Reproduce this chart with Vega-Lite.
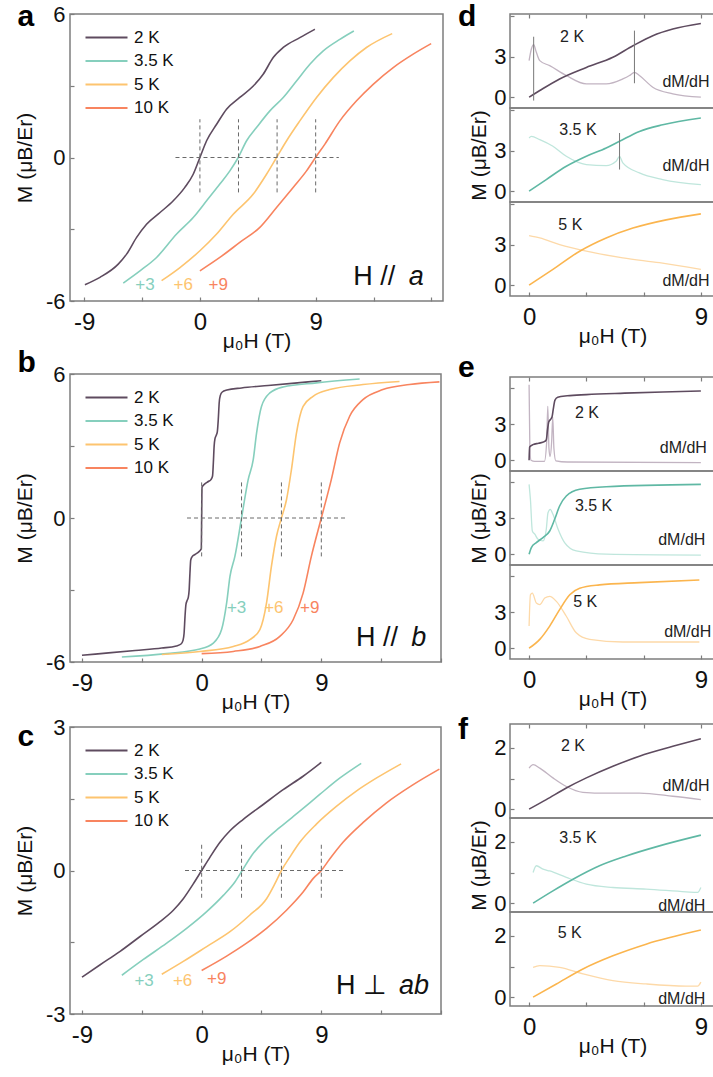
{
"$schema": "https://vega.github.io/schema/vega-lite/v6.json",
"background": "white",
"padding": {"left": 13, "top": 1, "right": 0, "bottom": 0},
"autosize": {"type": "pad"},
"config": {
 "font": "Liberation Sans",
 "view": {"stroke": "#7d7d7d", "strokeWidth": 1.5},
 "axis": {"grid": false, "domain": false, "tickColor": "#7d7d7d", "tickWidth": 1.2, "tickSize": -4, "labelFontSize": 22, "labelColor": "#111", "labelFont": "Liberation Sans", "titleFont": "Liberation Sans", "titleFontSize": 21, "titleFontWeight": "normal", "titleColor": "#111", "labelPadding": 10, "labelOverlap": false},
 "axisX": {"labelFontSize": 24, "labelPadding": 13},
 "title": {"font": "Liberation Sans", "fontSize": 30, "fontWeight": "bold", "anchor": "start", "frame": "bounds", "offset": 0, "color": "#000"}
},
"datasets": {
 "big": [
  {"g":"a","T":"2 K","H":-8.94,"M":-5.32},{"g":"a","T":"2 K","H":-7.77,"M":-5.01},{"g":"a","T":"2 K","H":-6.35,"M":-4.46},{"g":"a","T":"2 K","H":-5.7,"M":-4.04},{"g":"a","T":"2 K","H":-4.92,"M":-3.34},{"g":"a","T":"2 K","H":-4.15,"M":-2.79},{"g":"a","T":"2 K","H":-3.1,"M":-2.3},{"g":"a","T":"2 K","H":-2.07,"M":-1.81},{"g":"a","T":"2 K","H":-1.17,"M":-1.25},{"g":"a","T":"2 K","H":-0.52,"M":-0.7},{"g":"a","T":"2 K","H":0,"M":0},{"g":"a","T":"2 K","H":0.52,"M":0.7},{"g":"a","T":"2 K","H":1.3,"M":1.39},{"g":"a","T":"2 K","H":2.07,"M":2.02},{"g":"a","T":"2 K","H":3.1,"M":2.51},{"g":"a","T":"2 K","H":4.15,"M":2.99},{"g":"a","T":"2 K","H":4.92,"M":3.48},{"g":"a","T":"2 K","H":5.7,"M":4.18},{"g":"a","T":"2 K","H":6.48,"M":4.6},{"g":"a","T":"2 K","H":7.77,"M":5.01},{"g":"a","T":"2 K","H":8.94,"M":5.36},
  {"g":"a","T":"3.5 K","H":-5.96,"M":-5.25},{"g":"a","T":"3.5 K","H":-4.66,"M":-4.74},{"g":"a","T":"3.5 K","H":-3.37,"M":-4.18},{"g":"a","T":"3.5 K","H":-1.81,"M":-3.2},{"g":"a","T":"3.5 K","H":-0.52,"M":-2.51},{"g":"a","T":"3.5 K","H":0.52,"M":-1.81},{"g":"a","T":"3.5 K","H":1.55,"M":-1.11},{"g":"a","T":"3.5 K","H":2.33,"M":-0.56},{"g":"a","T":"3.5 K","H":2.98,"M":0},{"g":"a","T":"3.5 K","H":3.63,"M":0.7},{"g":"a","T":"3.5 K","H":4.4,"M":1.25},{"g":"a","T":"3.5 K","H":5.44,"M":1.95},{"g":"a","T":"3.5 K","H":6.48,"M":2.51},{"g":"a","T":"3.5 K","H":7.51,"M":3.2},{"g":"a","T":"3.5 K","H":8.55,"M":3.9},{"g":"a","T":"3.5 K","H":9.59,"M":4.46},{"g":"a","T":"3.5 K","H":10.88,"M":4.94},{"g":"a","T":"3.5 K","H":11.97,"M":5.29},
  {"g":"a","T":"5 K","H":-2.98,"M":-5.15},{"g":"a","T":"5 K","H":-1.55,"M":-4.6},{"g":"a","T":"5 K","H":0,"M":-3.9},{"g":"a","T":"5 K","H":1.3,"M":-3.2},{"g":"a","T":"5 K","H":2.59,"M":-2.37},{"g":"a","T":"5 K","H":4.15,"M":-1.53},{"g":"a","T":"5 K","H":5.18,"M":-0.7},{"g":"a","T":"5 K","H":5.96,"M":0},{"g":"a","T":"5 K","H":6.74,"M":0.7},{"g":"a","T":"5 K","H":7.77,"M":1.53},{"g":"a","T":"5 K","H":9.07,"M":2.51},{"g":"a","T":"5 K","H":10.36,"M":3.34},{"g":"a","T":"5 K","H":11.66,"M":4.04},{"g":"a","T":"5 K","H":12.95,"M":4.6},{"g":"a","T":"5 K","H":14.95,"M":5.18},
  {"g":"a","T":"10 K","H":0,"M":-4.74},{"g":"a","T":"10 K","H":1.55,"M":-4.18},{"g":"a","T":"10 K","H":3.1,"M":-3.55},{"g":"a","T":"10 K","H":4.66,"M":-2.92},{"g":"a","T":"10 K","H":5.96,"M":-2.09},{"g":"a","T":"10 K","H":7.25,"M":-1.25},{"g":"a","T":"10 K","H":8.29,"M":-0.56},{"g":"a","T":"10 K","H":8.99,"M":0},{"g":"a","T":"10 K","H":9.72,"M":0.56},{"g":"a","T":"10 K","H":10.88,"M":1.53},{"g":"a","T":"10 K","H":12.18,"M":2.37},{"g":"a","T":"10 K","H":13.47,"M":3.06},{"g":"a","T":"10 K","H":15.03,"M":3.76},{"g":"a","T":"10 K","H":16.58,"M":4.32},{"g":"a","T":"10 K","H":17.98,"M":4.76},
  {"g":"b","T":"2 K","H":-9,"M":-5.72},{"g":"b","T":"2 K","H":-7,"M":-5.62},{"g":"b","T":"2 K","H":-5,"M":-5.52},{"g":"b","T":"2 K","H":-3,"M":-5.42},{"g":"b","T":"2 K","H":-1.9,"M":-5.33},{"g":"b","T":"2 K","H":-1.55,"M":-5.25},{"g":"b","T":"2 K","H":-1.4,"M":-5.1},{"g":"b","T":"2 K","H":-1.32,"M":-4.8},{"g":"b","T":"2 K","H":-1.25,"M":-4.1},{"g":"b","T":"2 K","H":-1.18,"M":-3.6},{"g":"b","T":"2 K","H":-1.1,"M":-3.45},{"g":"b","T":"2 K","H":-1.0,"M":-3.3},{"g":"b","T":"2 K","H":-0.94,"M":-3.0},{"g":"b","T":"2 K","H":-0.88,"M":-2.3},{"g":"b","T":"2 K","H":-0.82,"M":-1.75},{"g":"b","T":"2 K","H":-0.7,"M":-1.6},{"g":"b","T":"2 K","H":-0.5,"M":-1.52},{"g":"b","T":"2 K","H":-0.2,"M":-1.4},{"g":"b","T":"2 K","H":-0.03,"M":-1.28},{"g":"b","T":"2 K","H":0.03,"M":1.28},{"g":"b","T":"2 K","H":0.2,"M":1.4},{"g":"b","T":"2 K","H":0.5,"M":1.52},{"g":"b","T":"2 K","H":0.7,"M":1.6},{"g":"b","T":"2 K","H":0.82,"M":1.75},{"g":"b","T":"2 K","H":0.88,"M":2.3},{"g":"b","T":"2 K","H":0.94,"M":3.0},{"g":"b","T":"2 K","H":1.0,"M":3.3},{"g":"b","T":"2 K","H":1.1,"M":3.45},{"g":"b","T":"2 K","H":1.18,"M":3.6},{"g":"b","T":"2 K","H":1.25,"M":4.1},{"g":"b","T":"2 K","H":1.32,"M":4.8},{"g":"b","T":"2 K","H":1.4,"M":5.1},{"g":"b","T":"2 K","H":1.55,"M":5.25},{"g":"b","T":"2 K","H":1.9,"M":5.33},{"g":"b","T":"2 K","H":3,"M":5.42},{"g":"b","T":"2 K","H":5,"M":5.52},{"g":"b","T":"2 K","H":7,"M":5.62},{"g":"b","T":"2 K","H":9,"M":5.72},
  {"g":"b","T":"3.5 K","H":-6,"M":-5.79},{"g":"b","T":"3.5 K","H":-2.63,"M":-5.65},{"g":"b","T":"3.5 K","H":-0.13,"M":-5.46},{"g":"b","T":"3.5 K","H":0.88,"M":-5.21},{"g":"b","T":"3.5 K","H":1.5,"M":-4.65},{"g":"b","T":"3.5 K","H":1.88,"M":-3.54},{"g":"b","T":"3.5 K","H":2.13,"M":-2.43},{"g":"b","T":"3.5 K","H":2.5,"M":-1.6},{"g":"b","T":"3.5 K","H":3,"M":0},{"g":"b","T":"3.5 K","H":3.5,"M":1.6},{"g":"b","T":"3.5 K","H":3.88,"M":2.43},{"g":"b","T":"3.5 K","H":4.13,"M":3.54},{"g":"b","T":"3.5 K","H":4.5,"M":4.65},{"g":"b","T":"3.5 K","H":5.13,"M":5.21},{"g":"b","T":"3.5 K","H":6.13,"M":5.46},{"g":"b","T":"3.5 K","H":8.63,"M":5.63},{"g":"b","T":"3.5 K","H":11.88,"M":5.79},
  {"g":"b","T":"5 K","H":-3,"M":-5.69},{"g":"b","T":"5 K","H":-0.13,"M":-5.56},{"g":"b","T":"5 K","H":2.38,"M":-5.35},{"g":"b","T":"5 K","H":3.63,"M":-5.07},{"g":"b","T":"5 K","H":4.38,"M":-4.65},{"g":"b","T":"5 K","H":4.88,"M":-3.54},{"g":"b","T":"5 K","H":5.25,"M":-2.01},{"g":"b","T":"5 K","H":5.63,"M":-0.76},{"g":"b","T":"5 K","H":6,"M":0},{"g":"b","T":"5 K","H":6.38,"M":0.76},{"g":"b","T":"5 K","H":6.75,"M":2.01},{"g":"b","T":"5 K","H":7.13,"M":3.54},{"g":"b","T":"5 K","H":7.63,"M":4.65},{"g":"b","T":"5 K","H":8.38,"M":5.07},{"g":"b","T":"5 K","H":9.63,"M":5.35},{"g":"b","T":"5 K","H":12.13,"M":5.56},{"g":"b","T":"5 K","H":14.88,"M":5.69},
  {"g":"b","T":"10 K","H":0,"M":-5.65},{"g":"b","T":"10 K","H":2.38,"M":-5.56},{"g":"b","T":"10 K","H":4.38,"M":-5.35},{"g":"b","T":"10 K","H":5.88,"M":-4.93},{"g":"b","T":"10 K","H":6.88,"M":-4.24},{"g":"b","T":"10 K","H":7.63,"M":-3.13},{"g":"b","T":"10 K","H":8.25,"M":-1.6},{"g":"b","T":"10 K","H":9,"M":0},{"g":"b","T":"10 K","H":9.75,"M":1.6},{"g":"b","T":"10 K","H":10.38,"M":3.13},{"g":"b","T":"10 K","H":11.13,"M":4.24},{"g":"b","T":"10 K","H":12.13,"M":4.93},{"g":"b","T":"10 K","H":13.63,"M":5.35},{"g":"b","T":"10 K","H":15.63,"M":5.56},{"g":"b","T":"10 K","H":17.88,"M":5.67},
  {"g":"c","T":"2 K","H":-9,"M":-2.23},{"g":"c","T":"2 K","H":-7.63,"M":-1.97},{"g":"c","T":"2 K","H":-6.13,"M":-1.69},{"g":"c","T":"2 K","H":-4.63,"M":-1.38},{"g":"c","T":"2 K","H":-3.13,"M":-1.07},{"g":"c","T":"2 K","H":-2.13,"M":-0.83},{"g":"c","T":"2 K","H":-1.38,"M":-0.59},{"g":"c","T":"2 K","H":-0.63,"M":-0.28},{"g":"c","T":"2 K","H":0,"M":0},{"g":"c","T":"2 K","H":0.63,"M":0.28},{"g":"c","T":"2 K","H":1.38,"M":0.59},{"g":"c","T":"2 K","H":2.13,"M":0.83},{"g":"c","T":"2 K","H":3.13,"M":1.07},{"g":"c","T":"2 K","H":4.63,"M":1.38},{"g":"c","T":"2 K","H":6.13,"M":1.69},{"g":"c","T":"2 K","H":7.63,"M":1.97},{"g":"c","T":"2 K","H":9,"M":2.26},
  {"g":"c","T":"3.5 K","H":-6,"M":-2.19},{"g":"c","T":"3.5 K","H":-4.38,"M":-1.86},{"g":"c","T":"3.5 K","H":-2.63,"M":-1.52},{"g":"c","T":"3.5 K","H":-1.13,"M":-1.21},{"g":"c","T":"3.5 K","H":0.38,"M":-0.86},{"g":"c","T":"3.5 K","H":1.63,"M":-0.52},{"g":"c","T":"3.5 K","H":2.5,"M":-0.24},{"g":"c","T":"3.5 K","H":3.05,"M":0},{"g":"c","T":"3.5 K","H":3.75,"M":0.31},{"g":"c","T":"3.5 K","H":4.63,"M":0.59},{"g":"c","T":"3.5 K","H":5.88,"M":0.9},{"g":"c","T":"3.5 K","H":7.38,"M":1.24},{"g":"c","T":"3.5 K","H":8.88,"M":1.59},{"g":"c","T":"3.5 K","H":10.38,"M":1.93},{"g":"c","T":"3.5 K","H":12,"M":2.24},
  {"g":"c","T":"5 K","H":-3,"M":-2.17},{"g":"c","T":"5 K","H":-1.38,"M":-1.9},{"g":"c","T":"5 K","H":0.38,"M":-1.59},{"g":"c","T":"5 K","H":2.13,"M":-1.28},{"g":"c","T":"5 K","H":3.63,"M":-0.93},{"g":"c","T":"5 K","H":4.88,"M":-0.59},{"g":"c","T":"5 K","H":5.5,"M":-0.28},{"g":"c","T":"5 K","H":6,"M":0},{"g":"c","T":"5 K","H":6.63,"M":0.28},{"g":"c","T":"5 K","H":7.38,"M":0.59},{"g":"c","T":"5 K","H":8.63,"M":0.97},{"g":"c","T":"5 K","H":10.13,"M":1.34},{"g":"c","T":"5 K","H":11.63,"M":1.66},{"g":"c","T":"5 K","H":13.13,"M":1.93},{"g":"c","T":"5 K","H":15,"M":2.23},
  {"g":"c","T":"10 K","H":0,"M":-2.09},{"g":"c","T":"10 K","H":1.88,"M":-1.79},{"g":"c","T":"10 K","H":3.38,"M":-1.52},{"g":"c","T":"10 K","H":4.88,"M":-1.21},{"g":"c","T":"10 K","H":6.38,"M":-0.83},{"g":"c","T":"10 K","H":7.63,"M":-0.45},{"g":"c","T":"10 K","H":8.38,"M":-0.17},{"g":"c","T":"10 K","H":9,"M":0},{"g":"c","T":"10 K","H":9.63,"M":0.24},{"g":"c","T":"10 K","H":10.63,"M":0.59},{"g":"c","T":"10 K","H":12.13,"M":1.0},{"g":"c","T":"10 K","H":13.88,"M":1.41},{"g":"c","T":"10 K","H":15.88,"M":1.79},{"g":"c","T":"10 K","H":17.88,"M":2.12}
 ],
 "vl": [
  {"g":"a","H":0,"M":-1.46,"M2":1.6},{"g":"a","H":3,"M":-1.46,"M2":1.6},{"g":"a","H":6,"M":-1.46,"M2":1.6},{"g":"a","H":9,"M":-1.46,"M2":1.6},
  {"g":"b","H":0,"M":-1.6,"M2":1.58},{"g":"b","H":3,"M":-1.6,"M2":1.58},{"g":"b","H":6,"M":-1.6,"M2":1.58},{"g":"b","H":9,"M":-1.6,"M2":1.58},
  {"g":"c","H":0,"M":-0.57,"M2":0.58},{"g":"c","H":3,"M":-0.57,"M2":0.58},{"g":"c","H":6,"M":-0.57,"M2":0.58},{"g":"c","H":9,"M":-0.57,"M2":0.58}
 ],
 "hl": [
  {"g":"a","H":-1.9,"H2":10.8,"M":0},{"g":"b","H":-1.1,"H2":11,"M":0},{"g":"c","H":-1.25,"H2":10.7,"M":0}
 ],
 "bann": [
  {"g":"a","T":"3.5 K","txt":"+3","H":-4.27,"M":-5.32},{"g":"a","T":"5 K","txt":"+6","H":-1.3,"M":-5.32},{"g":"a","T":"10 K","txt":"+9","H":1.42,"M":-5.32},
  {"g":"b","T":"3.5 K","txt":"+3","H":2.63,"M":-3.75},{"g":"b","T":"5 K","txt":"+6","H":5.43,"M":-3.75},{"g":"b","T":"10 K","txt":"+9","H":8.13,"M":-3.75},
  {"g":"c","T":"3.5 K","txt":"+3","H":-4.33,"M":-2.3},{"g":"c","T":"5 K","txt":"+6","H":-1.43,"M":-2.3},{"g":"c","T":"10 K","txt":"+9","H":1.13,"M":-2.26}
 ],
 "lab": [
  {"g":"a","part":"H","txt":"H //","H":11.92,"M":-5.32},{"g":"a","part":"ax","txt":"a","H":17.4,"M":-5.32},
  {"g":"b","part":"H","txt":"H //","H":11.6,"M":-5.32},{"g":"b","part":"ax","txt":"b","H":16.9,"M":-5.32},
  {"g":"c","part":"H","txt":"H ⊥","H":10.1,"M":-2.59},{"g":"c","part":"ax","txt":"ab","H":17.1,"M":-2.59}
 ],
 "small": [
  {"p":"d1","k":"M","H":0,"M":0},{"p":"d1","k":"M","H":0.56,"M":0.49},{"p":"d1","k":"M","H":1.6,"M":1.35},{"p":"d1","k":"M","H":3,"M":2.2},{"p":"d1","k":"M","H":4.39,"M":2.95},{"p":"d1","k":"M","H":5.44,"M":3.8},{"p":"d1","k":"M","H":6.48,"M":4.55},{"p":"d1","k":"M","H":7.53,"M":5.04},{"p":"d1","k":"M","H":9,"M":5.45},
  {"p":"d1","k":"D","H":0,"M":2.7},{"p":"d1","k":"D","H":0.12,"M":3.56},{"p":"d1","k":"D","H":0.24,"M":3.88},{"p":"d1","k":"D","H":0.38,"M":3.32},{"p":"d1","k":"D","H":0.56,"M":2.7},{"p":"d1","k":"D","H":1.08,"M":2.33},{"p":"d1","k":"D","H":1.95,"M":1.6},{"p":"d1","k":"D","H":3,"M":0.98},{"p":"d1","k":"D","H":4.04,"M":0.98},{"p":"d1","k":"D","H":4.91,"M":1.35},{"p":"d1","k":"D","H":5.26,"M":1.6},{"p":"d1","k":"D","H":5.52,"M":1.84},{"p":"d1","k":"D","H":5.78,"M":1.6},{"p":"d1","k":"D","H":6.48,"M":0.74},{"p":"d1","k":"D","H":7.53,"M":0.25},{"p":"d1","k":"D","H":9,"M":0},
  {"p":"d2","k":"M","H":0,"M":0},{"p":"d2","k":"M","H":0.9,"M":0.86},{"p":"d2","k":"M","H":1.95,"M":1.84},{"p":"d2","k":"M","H":3,"M":2.58},{"p":"d2","k":"M","H":4.04,"M":3.19},{"p":"d2","k":"M","H":4.74,"M":3.69},{"p":"d2","k":"M","H":5.78,"M":4.42},{"p":"d2","k":"M","H":7.0,"M":4.91},{"p":"d2","k":"M","H":9,"M":5.41},
  {"p":"d2","k":"D","H":0,"M":3.93},{"p":"d2","k":"D","H":0.12,"M":4.05},{"p":"d2","k":"D","H":0.56,"M":3.81},{"p":"d2","k":"D","H":1.25,"M":3.32},{"p":"d2","k":"D","H":1.95,"M":2.58},{"p":"d2","k":"D","H":3,"M":1.97},{"p":"d2","k":"D","H":4.04,"M":1.89},{"p":"d2","k":"D","H":4.56,"M":2.21},{"p":"d2","k":"D","H":4.74,"M":2.58},{"p":"d2","k":"D","H":4.91,"M":2.09},{"p":"d2","k":"D","H":5.78,"M":1.35},{"p":"d2","k":"D","H":7.0,"M":0.86},{"p":"d2","k":"D","H":9,"M":0.49},
  {"p":"d3","k":"M","H":0,"M":0},{"p":"d3","k":"M","H":1.25,"M":1.17},{"p":"d3","k":"M","H":2.65,"M":2.51},{"p":"d3","k":"M","H":4.04,"M":3.49},{"p":"d3","k":"M","H":5.44,"M":4.22},{"p":"d3","k":"M","H":7.18,"M":4.83},{"p":"d3","k":"M","H":9,"M":5.27},
  {"p":"d3","k":"D","H":0,"M":3.66},{"p":"d3","k":"D","H":0.56,"M":3.49},{"p":"d3","k":"D","H":1.6,"M":3.0},{"p":"d3","k":"D","H":3,"M":2.51},{"p":"d3","k":"D","H":4.91,"M":2.02},{"p":"d3","k":"D","H":6.83,"M":1.66},{"p":"d3","k":"D","H":9,"M":1.17},
  {"p":"e1","k":"M","H":0,"M":0},{"p":"e1","k":"M","H":0.03,"M":1.1},{"p":"e1","k":"M","H":0.2,"M":1.3},{"p":"e1","k":"M","H":0.5,"M":1.42},{"p":"e1","k":"M","H":0.8,"M":1.55},{"p":"e1","k":"M","H":0.9,"M":1.7},{"p":"e1","k":"M","H":0.97,"M":2.6},{"p":"e1","k":"M","H":1.03,"M":3.2},{"p":"e1","k":"M","H":1.12,"M":3.4},{"p":"e1","k":"M","H":1.2,"M":3.6},{"p":"e1","k":"M","H":1.28,"M":4.4},{"p":"e1","k":"M","H":1.35,"M":5.0},{"p":"e1","k":"M","H":1.5,"M":5.25},{"p":"e1","k":"M","H":2,"M":5.38},{"p":"e1","k":"M","H":3,"M":5.48},{"p":"e1","k":"M","H":5,"M":5.6},{"p":"e1","k":"M","H":7,"M":5.7},{"p":"e1","k":"M","H":9,"M":5.78},
  {"p":"e1","k":"D","H":0,"M":6.3},{"p":"e1","k":"D","H":0.04,"M":1.0},{"p":"e1","k":"D","H":0.1,"M":0.0},{"p":"e1","k":"D","H":0.3,"M":-0.1},{"p":"e1","k":"D","H":0.8,"M":-0.1},{"p":"e1","k":"D","H":0.92,"M":1.5},{"p":"e1","k":"D","H":0.98,"M":4.5},{"p":"e1","k":"D","H":1.04,"M":1.0},{"p":"e1","k":"D","H":1.1,"M":0.3},{"p":"e1","k":"D","H":1.18,"M":1.5},{"p":"e1","k":"D","H":1.24,"M":3.6},{"p":"e1","k":"D","H":1.3,"M":1.0},{"p":"e1","k":"D","H":1.4,"M":-0.05},{"p":"e1","k":"D","H":2,"M":-0.15},{"p":"e1","k":"D","H":9,"M":-0.2},
  {"p":"e2","k":"M","H":0,"M":0},{"p":"e2","k":"M","H":0.12,"M":0.56},{"p":"e2","k":"M","H":0.38,"M":0.97},{"p":"e2","k":"M","H":0.73,"M":1.39},{"p":"e2","k":"M","H":1.08,"M":1.94},{"p":"e2","k":"M","H":1.34,"M":2.92},{"p":"e2","k":"M","H":1.6,"M":4.03},{"p":"e2","k":"M","H":1.95,"M":4.86},{"p":"e2","k":"M","H":2.65,"M":5.42},{"p":"e2","k":"M","H":4.04,"M":5.64},{"p":"e2","k":"M","H":9,"M":5.83},
  {"p":"e2","k":"D","H":0,"M":5.83},{"p":"e2","k":"D","H":0.07,"M":4.58},{"p":"e2","k":"D","H":0.17,"M":1.94},{"p":"e2","k":"D","H":0.3,"M":1.67},{"p":"e2","k":"D","H":0.47,"M":1.25},{"p":"e2","k":"D","H":0.73,"M":1.11},{"p":"e2","k":"D","H":0.9,"M":2.08},{"p":"e2","k":"D","H":0.99,"M":3.47},{"p":"e2","k":"D","H":1.11,"M":3.75},{"p":"e2","k":"D","H":1.25,"M":3.33},{"p":"e2","k":"D","H":1.52,"M":2.08},{"p":"e2","k":"D","H":1.86,"M":0.97},{"p":"e2","k":"D","H":2.47,"M":0.28},{"p":"e2","k":"D","H":4.04,"M":0},{"p":"e2","k":"D","H":9,"M":-0.08},
  {"p":"e3","k":"M","H":0,"M":0},{"p":"e3","k":"M","H":0.56,"M":0.74},{"p":"e3","k":"M","H":1.08,"M":1.85},{"p":"e3","k":"M","H":1.6,"M":3.22},{"p":"e3","k":"M","H":2.13,"M":4.46},{"p":"e3","k":"M","H":2.65,"M":5.01},{"p":"e3","k":"M","H":3.69,"M":5.29},{"p":"e3","k":"M","H":5.78,"M":5.48},{"p":"e3","k":"M","H":8.92,"M":5.7},
  {"p":"e3","k":"D","H":0,"M":1.85},{"p":"e3","k":"D","H":0.07,"M":4.46},{"p":"e3","k":"D","H":0.17,"M":4.6},{"p":"e3","k":"D","H":0.38,"M":3.77},{"p":"e3","k":"D","H":0.56,"M":3.64},{"p":"e3","k":"D","H":0.82,"M":4.19},{"p":"e3","k":"D","H":1.08,"M":4.33},{"p":"e3","k":"D","H":1.43,"M":3.91},{"p":"e3","k":"D","H":1.95,"M":2.67},{"p":"e3","k":"D","H":2.47,"M":1.29},{"p":"e3","k":"D","H":3.17,"M":0.74},{"p":"e3","k":"D","H":4.91,"M":0.52},{"p":"e3","k":"D","H":8.92,"M":0.52},
  {"p":"f1","k":"M","H":0,"M":0},{"p":"f1","k":"M","H":0.9,"M":0.31},{"p":"f1","k":"M","H":1.95,"M":0.69},{"p":"f1","k":"M","H":3,"M":1.02},{"p":"f1","k":"M","H":4.39,"M":1.4},{"p":"f1","k":"M","H":5.78,"M":1.73},{"p":"f1","k":"M","H":7.53,"M":2.05},{"p":"f1","k":"M","H":9,"M":2.3},
  {"p":"f1","k":"D","H":0,"M":1.34},{"p":"f1","k":"D","H":0.21,"M":1.45},{"p":"f1","k":"D","H":0.56,"M":1.34},{"p":"f1","k":"D","H":1.25,"M":1.02},{"p":"f1","k":"D","H":1.95,"M":0.74},{"p":"f1","k":"D","H":2.82,"M":0.55},{"p":"f1","k":"D","H":4.04,"M":0.52},{"p":"f1","k":"D","H":5.78,"M":0.52},{"p":"f1","k":"D","H":7.53,"M":0.42},{"p":"f1","k":"D","H":9,"M":0.31},
  {"p":"f2","k":"M","H":0.21,"M":0},{"p":"f2","k":"M","H":1.25,"M":0.4},{"p":"f2","k":"M","H":2.3,"M":0.78},{"p":"f2","k":"M","H":3.69,"M":1.22},{"p":"f2","k":"M","H":5.09,"M":1.54},{"p":"f2","k":"M","H":6.83,"M":1.87},{"p":"f2","k":"M","H":9,"M":2.22},
  {"p":"f2","k":"D","H":0.21,"M":1.0},{"p":"f2","k":"D","H":0.38,"M":1.22},{"p":"f2","k":"D","H":0.73,"M":1.11},{"p":"f2","k":"D","H":1.08,"M":1.05},{"p":"f2","k":"D","H":1.95,"M":0.84},{"p":"f2","k":"D","H":3,"M":0.62},{"p":"f2","k":"D","H":4.39,"M":0.51},{"p":"f2","k":"D","H":6.13,"M":0.46},{"p":"f2","k":"D","H":8.22,"M":0.37},{"p":"f2","k":"D","H":8.83,"M":0.35},{"p":"f2","k":"D","H":9,"M":0.51},
  {"p":"f3","k":"M","H":0.21,"M":0},{"p":"f3","k":"M","H":1.43,"M":0.43},{"p":"f3","k":"M","H":2.82,"M":0.92},{"p":"f3","k":"M","H":4.39,"M":1.35},{"p":"f3","k":"M","H":6.13,"M":1.73},{"p":"f3","k":"M","H":9,"M":2.19},
  {"p":"f3","k":"D","H":0.21,"M":0.97},{"p":"f3","k":"D","H":0.56,"M":1.03},{"p":"f3","k":"D","H":1.6,"M":0.97},{"p":"f3","k":"D","H":2.82,"M":0.76},{"p":"f3","k":"D","H":4.39,"M":0.54},{"p":"f3","k":"D","H":6.13,"M":0.43},{"p":"f3","k":"D","H":8.22,"M":0.36},{"p":"f3","k":"D","H":8.83,"M":0.36},{"p":"f3","k":"D","H":9,"M":0.49}
 ],
 "sann": [
  {"p":"d1","txt":"2 K","H":2.25,"M":4.42},{"p":"d1","txt":"dM/dH","H":8.22,"M":1.1},
  {"p":"d2","txt":"3.5 K","H":2.56,"M":4.55},{"p":"d2","txt":"dM/dH","H":8.22,"M":1.84},
  {"p":"d3","txt":"5 K","H":2.16,"M":4.46},{"p":"d3","txt":"dM/dH","H":8.22,"M":0.32},
  {"p":"e1","txt":"2 K","H":3.03,"M":3.97},{"p":"e1","txt":"dM/dH","H":8.08,"M":1.0},
  {"p":"e2","txt":"3.5 K","H":3.38,"M":4.03},{"p":"e2","txt":"dM/dH","H":8.0,"M":1.19},
  {"p":"e3","txt":"5 K","H":2.94,"M":3.86},{"p":"e3","txt":"dM/dH","H":8.31,"M":1.35},
  {"p":"f1","txt":"2 K","H":2.3,"M":2.05},{"p":"f1","txt":"dM/dH","H":8.22,"M":0.74},
  {"p":"f2","txt":"3.5 K","H":2.56,"M":2.14},{"p":"f2","txt":"dM/dH","H":8.0,"M":-0.09},
  {"p":"f3","txt":"5 K","H":2.13,"M":2.11},{"p":"f3","txt":"dM/dH","H":8.0,"M":-0.05}
 ],
 "smark": [
  {"p":"d1","H":0.24,"M":-0.25,"M2":4.47},{"p":"d1","H":5.52,"M":1.03,"M2":4.92},{"p":"d2","H":4.74,"M":1.6,"M2":4.3}
 ]
},
"spacing": 14,
"hconcat": [
 {
  "spacing": -5,
  "resolve": {"scale": {"color": "independent"}},
  "vconcat": [
   {
    "width": 373, "height": 287,
    "title": {"text": "a", "offset": -29, "dx": 3},
    "layer": [
     {"data": {"name": "big"}, "transform": [{"filter": "datum.g == 'a'"}],
      "mark": {"type": "line", "strokeWidth": 1.6, "interpolate": "monotone"},
      "encoding": {
       "x": {"field": "H", "type": "quantitative", "scale": {"domain": [-10.1, 18.9], "nice": false, "zero": false},
             "axis": {"title": "μ₀H (T)", "values": [-9, -4.5, 0, 4.5, 9, 13.5, 18], "labelExpr": "datum.value == -9 ? '-9' : datum.value == 0 ? '0' : datum.value == 9 ? '9' : ''", "titlePadding": -4}},
       "y": {"field": "M", "type": "quantitative", "scale": {"domain": [-6, 6], "nice": false, "zero": false},
             "axis": {"title": "M (μB/Er)", "values": [-6, -4.5, -3, -1.5, 0, 1.5, 3, 4.5, 6], "labelExpr": "datum.value == -6 ? '-6' : datum.value == 0 ? '0' : datum.value == 6 ? '6' : ''", "labelPadding": 9, "titlePadding": 10}},
       "color": {"field": "T", "type": "nominal", "scale": {"domain": ["2 K", "3.5 K", "5 K", "10 K"], "range": ["#5e4b5f", "#86cfbd", "#fdc46f", "#f8845f"]},
                 "legend": {"orient": "none", "legendX": 25, "legendY": 12, "title": null, "symbolType": "M-2,0H2", "symbolSize": 441, "symbolStrokeWidth": 1.8, "labelFontSize": 17, "labelOffset": 16, "rowPadding": 3.5, "padding": 0, "labelColor": "#111"}}
      }},
     {"data": {"name": "vl"}, "transform": [{"filter": "datum.g == 'a'"}], "mark": {"type": "rule", "strokeDash": [4, 3], "color": "#6a6a6a", "strokeWidth": 1},
      "encoding": {"x": {"field": "H", "type": "quantitative"}, "y": {"field": "M", "type": "quantitative"}, "y2": {"field": "M2"}}},
     {"data": {"name": "hl"}, "transform": [{"filter": "datum.g == 'a'"}], "mark": {"type": "rule", "strokeDash": [4, 3], "color": "#6a6a6a", "strokeWidth": 1},
      "encoding": {"x": {"field": "H", "type": "quantitative"}, "x2": {"field": "H2"}, "y": {"field": "M", "type": "quantitative"}}},
     {"data": {"name": "bann"}, "transform": [{"filter": "datum.g == 'a'"}], "mark": {"type": "text", "fontSize": 17},
      "encoding": {"x": {"field": "H", "type": "quantitative"}, "y": {"field": "M", "type": "quantitative"}, "text": {"field": "txt"}, "color": {"field": "T", "type": "nominal", "legend": null}}},
     {"data": {"name": "lab"}, "transform": [{"filter": "datum.g == 'a' && datum.part == 'H'"}], "mark": {"type": "text", "fontSize": 27, "align": "left", "baseline": "alphabetic", "color": "#111"},
      "encoding": {"x": {"field": "H", "type": "quantitative"}, "y": {"field": "M", "type": "quantitative"}, "text": {"field": "txt"}}},
     {"data": {"name": "lab"}, "transform": [{"filter": "datum.g == 'a' && datum.part == 'ax'"}], "mark": {"type": "text", "fontSize": 27, "align": "right", "baseline": "alphabetic", "fontStyle": "italic", "color": "#111"},
      "encoding": {"x": {"field": "H", "type": "quantitative"}, "y": {"field": "M", "type": "quantitative"}, "text": {"field": "txt"}}}
    ]
   },
   {
    "spacing": 2,
    "resolve": {"scale": {"color": "independent"}},
    "vconcat": [
     {
      "width": 371, "height": 288,
      "title": {"text": "b", "offset": -15, "dx": 3},
      "layer": [
       {"data": {"name": "big"}, "transform": [{"filter": "datum.g == 'b'"}],
        "mark": {"type": "line", "strokeWidth": 1.6, "interpolate": "monotone"},
        "encoding": {
         "x": {"field": "H", "type": "quantitative", "scale": {"domain": [-9.9, 18], "nice": false, "zero": false},
               "axis": {"title": "μ₀H (T)", "values": [-9, -4.5, 0, 4.5, 9, 13.5, 18], "labelExpr": "datum.value == -9 ? '-9' : datum.value == 0 ? '0' : datum.value == 9 ? '9' : ''", "titlePadding": -4}},
         "y": {"field": "M", "type": "quantitative", "scale": {"domain": [-6, 6], "nice": false, "zero": false},
               "axis": {"title": "M (μB/Er)", "values": [-6, -4.5, -3, -1.5, 0, 1.5, 3, 4.5, 6], "labelExpr": "datum.value == -6 ? '-6' : datum.value == 0 ? '0' : datum.value == 6 ? '6' : ''", "labelPadding": 9, "titlePadding": 10}},
         "color": {"field": "T", "type": "nominal", "scale": {"domain": ["2 K", "3.5 K", "5 K", "10 K"], "range": ["#5e4b5f", "#86cfbd", "#fdc46f", "#f8845f"]},
                   "legend": {"orient": "none", "legendX": 25, "legendY": 12, "title": null, "symbolType": "M-2,0H2", "symbolSize": 441, "symbolStrokeWidth": 1.8, "labelFontSize": 17, "labelOffset": 16, "rowPadding": 3.5, "padding": 0, "labelColor": "#111"}}
        }},
       {"data": {"name": "vl"}, "transform": [{"filter": "datum.g == 'b'"}], "mark": {"type": "rule", "strokeDash": [4, 3], "color": "#6a6a6a", "strokeWidth": 1},
        "encoding": {"x": {"field": "H", "type": "quantitative"}, "y": {"field": "M", "type": "quantitative"}, "y2": {"field": "M2"}}},
       {"data": {"name": "hl"}, "transform": [{"filter": "datum.g == 'b'"}], "mark": {"type": "rule", "strokeDash": [4, 3], "color": "#6a6a6a", "strokeWidth": 1},
        "encoding": {"x": {"field": "H", "type": "quantitative"}, "x2": {"field": "H2"}, "y": {"field": "M", "type": "quantitative"}}},
       {"data": {"name": "bann"}, "transform": [{"filter": "datum.g == 'b'"}], "mark": {"type": "text", "fontSize": 17},
        "encoding": {"x": {"field": "H", "type": "quantitative"}, "y": {"field": "M", "type": "quantitative"}, "text": {"field": "txt"}, "color": {"field": "T", "type": "nominal", "legend": null}}},
       {"data": {"name": "lab"}, "transform": [{"filter": "datum.g == 'b' && datum.part == 'H'"}], "mark": {"type": "text", "fontSize": 27, "align": "left", "baseline": "alphabetic", "color": "#111"},
        "encoding": {"x": {"field": "H", "type": "quantitative"}, "y": {"field": "M", "type": "quantitative"}, "text": {"field": "txt"}}},
       {"data": {"name": "lab"}, "transform": [{"filter": "datum.g == 'b' && datum.part == 'ax'"}], "mark": {"type": "text", "fontSize": 27, "align": "right", "baseline": "alphabetic", "fontStyle": "italic", "color": "#111"},
        "encoding": {"x": {"field": "H", "type": "quantitative"}, "y": {"field": "M", "type": "quantitative"}, "text": {"field": "txt"}}}
      ]
     },
     {
      "width": 371, "height": 287,
      "title": {"text": "c", "offset": -36, "dx": 3},
      "layer": [
       {"data": {"name": "big"}, "transform": [{"filter": "datum.g == 'c'"}],
        "mark": {"type": "line", "strokeWidth": 1.6, "interpolate": "monotone"},
        "encoding": {
         "x": {"field": "H", "type": "quantitative", "scale": {"domain": [-9.9, 18], "nice": false, "zero": false},
               "axis": {"title": "μ₀H (T)", "values": [-9, -4.5, 0, 4.5, 9, 13.5, 18], "labelExpr": "datum.value == -9 ? '-9' : datum.value == 0 ? '0' : datum.value == 9 ? '9' : ''", "titlePadding": -4}},
         "y": {"field": "M", "type": "quantitative", "scale": {"domain": [-3, 3], "nice": false, "zero": false},
               "axis": {"title": "M (μB/Er)", "values": [-3, -2.25, -1.5, -0.75, 0, 0.75, 1.5, 2.25, 3], "labelExpr": "datum.value == -3 ? '-3' : datum.value == 0 ? '0' : datum.value == 3 ? '3' : ''", "labelPadding": 9, "titlePadding": 10}},
         "color": {"field": "T", "type": "nominal", "scale": {"domain": ["2 K", "3.5 K", "5 K", "10 K"], "range": ["#5e4b5f", "#86cfbd", "#fdc46f", "#f8845f"]},
                   "legend": {"orient": "none", "legendX": 25, "legendY": 12, "title": null, "symbolType": "M-2,0H2", "symbolSize": 441, "symbolStrokeWidth": 1.8, "labelFontSize": 17, "labelOffset": 16, "rowPadding": 3.5, "padding": 0, "labelColor": "#111"}}
        }},
       {"data": {"name": "vl"}, "transform": [{"filter": "datum.g == 'c'"}], "mark": {"type": "rule", "strokeDash": [4, 3], "color": "#6a6a6a", "strokeWidth": 1},
        "encoding": {"x": {"field": "H", "type": "quantitative"}, "y": {"field": "M", "type": "quantitative"}, "y2": {"field": "M2"}}},
       {"data": {"name": "hl"}, "transform": [{"filter": "datum.g == 'c'"}], "mark": {"type": "rule", "strokeDash": [4, 3], "color": "#6a6a6a", "strokeWidth": 1},
        "encoding": {"x": {"field": "H", "type": "quantitative"}, "x2": {"field": "H2"}, "y": {"field": "M", "type": "quantitative"}}},
       {"data": {"name": "bann"}, "transform": [{"filter": "datum.g == 'c'"}], "mark": {"type": "text", "fontSize": 17},
        "encoding": {"x": {"field": "H", "type": "quantitative"}, "y": {"field": "M", "type": "quantitative"}, "text": {"field": "txt"}, "color": {"field": "T", "type": "nominal", "legend": null}}},
       {"data": {"name": "lab"}, "transform": [{"filter": "datum.g == 'c' && datum.part == 'H'"}], "mark": {"type": "text", "fontSize": 27, "align": "left", "baseline": "alphabetic", "color": "#111"},
        "encoding": {"x": {"field": "H", "type": "quantitative"}, "y": {"field": "M", "type": "quantitative"}, "text": {"field": "txt"}}},
       {"data": {"name": "lab"}, "transform": [{"filter": "datum.g == 'c' && datum.part == 'ax'"}], "mark": {"type": "text", "fontSize": 27, "align": "right", "baseline": "alphabetic", "fontStyle": "italic", "color": "#111"},
        "encoding": {"x": {"field": "H", "type": "quantitative"}, "y": {"field": "M", "type": "quantitative"}, "text": {"field": "txt"}}}
      ]
     }
    ]
   }
  ]
 },
 {
  "spacing": 5,
  "vconcat": [
   {
    "title": {"text": "d", "offset": -28, "dx": -10},
    "spacing": 0, "bounds": "flush",
    "vconcat": [
     {"width": 205, "height": 94, "layer": [
      {"data": {"name": "small"}, "transform": [{"filter": "datum.p == 'd1' && datum.k == 'D'"}], "mark": {"type": "line", "color": "#c2b4c2", "strokeWidth": 1.3, "interpolate": "monotone"},
       "encoding": {"x": {"field": "H", "type": "quantitative", "scale": {"domain": [-1, 9.74], "nice": false, "zero": false}, "axis": {"orient": "top", "values": [0, 1.5, 3, 4.5, 6, 7.5, 9], "labels": false, "title": null}},
                    "y": {"field": "M", "type": "quantitative", "scale": {"domain": [-0.8, 6.15], "nice": false, "zero": false}, "axis": {"values": [0, 1.5, 3, 4.5, 6], "labelExpr": "datum.value == 0 ? '0' : datum.value == 3 ? '3' : ''", "title": null, "labelPadding": 8}}}},
      {"data": {"name": "small"}, "transform": [{"filter": "datum.p == 'd1' && datum.k == 'M'"}], "mark": {"type": "line", "color": "#5e4b5f", "strokeWidth": 1.6, "interpolate": "monotone"},
       "encoding": {"x": {"field": "H", "type": "quantitative"}, "y": {"field": "M", "type": "quantitative"}}},
      {"data": {"name": "smark"}, "transform": [{"filter": "datum.p == 'd1'"}], "mark": {"type": "rule", "color": "#777", "strokeWidth": 1},
       "encoding": {"x": {"field": "H", "type": "quantitative"}, "y": {"field": "M", "type": "quantitative"}, "y2": {"field": "M2"}}},
      {"data": {"name": "sann"}, "transform": [{"filter": "datum.p == 'd1'"}], "mark": {"type": "text", "fontSize": 16, "color": "#222"},
       "encoding": {"x": {"field": "H", "type": "quantitative"}, "y": {"field": "M", "type": "quantitative"}, "text": {"field": "txt"}}}
     ]},
     {"width": 205, "height": 94, "layer": [
      {"data": {"name": "small"}, "transform": [{"filter": "datum.p == 'd2' && datum.k == 'D'"}], "mark": {"type": "line", "color": "#bfe6dc", "strokeWidth": 1.3, "interpolate": "monotone"},
       "encoding": {"x": {"field": "H", "type": "quantitative", "scale": {"domain": [-1, 9.74], "nice": false, "zero": false}, "axis": null},
                    "y": {"field": "M", "type": "quantitative", "scale": {"domain": [-0.8, 6.15], "nice": false, "zero": false}, "axis": {"values": [0, 1.5, 3, 4.5, 6], "labelExpr": "datum.value == 0 ? '0' : datum.value == 3 ? '3' : ''", "title": "M (μB/Er)", "labelPadding": 8, "titlePadding": 4}}}},
      {"data": {"name": "small"}, "transform": [{"filter": "datum.p == 'd2' && datum.k == 'M'"}], "mark": {"type": "line", "color": "#5fb8a4", "strokeWidth": 1.6, "interpolate": "monotone"},
       "encoding": {"x": {"field": "H", "type": "quantitative"}, "y": {"field": "M", "type": "quantitative"}}},
      {"data": {"name": "smark"}, "transform": [{"filter": "datum.p == 'd2'"}], "mark": {"type": "rule", "color": "#777", "strokeWidth": 1},
       "encoding": {"x": {"field": "H", "type": "quantitative"}, "y": {"field": "M", "type": "quantitative"}, "y2": {"field": "M2"}}},
      {"data": {"name": "sann"}, "transform": [{"filter": "datum.p == 'd2'"}], "mark": {"type": "text", "fontSize": 16, "color": "#222"},
       "encoding": {"x": {"field": "H", "type": "quantitative"}, "y": {"field": "M", "type": "quantitative"}, "text": {"field": "txt"}}}
     ]},
     {"width": 205, "height": 94, "layer": [
      {"data": {"name": "small"}, "transform": [{"filter": "datum.p == 'd3' && datum.k == 'D'"}], "mark": {"type": "line", "color": "#fdd9a8", "strokeWidth": 1.3, "interpolate": "monotone"},
       "encoding": {"x": {"field": "H", "type": "quantitative", "scale": {"domain": [-1, 9.74], "nice": false, "zero": false}, "axis": {"values": [0, 1.5, 3, 4.5, 6, 7.5, 9], "labelExpr": "datum.value == 0 ? '0' : datum.value == 9 ? '9' : ''", "title": "μ₀H (T)", "titlePadding": -4}},
                    "y": {"field": "M", "type": "quantitative", "scale": {"domain": [-0.8, 6.15], "nice": false, "zero": false}, "axis": {"values": [0, 1.5, 3, 4.5, 6], "labelExpr": "datum.value == 0 ? '0' : datum.value == 3 ? '3' : ''", "title": null, "labelPadding": 8}}}},
      {"data": {"name": "small"}, "transform": [{"filter": "datum.p == 'd3' && datum.k == 'M'"}], "mark": {"type": "line", "color": "#fbb54e", "strokeWidth": 1.6, "interpolate": "monotone"},
       "encoding": {"x": {"field": "H", "type": "quantitative"}, "y": {"field": "M", "type": "quantitative"}}},
      {"data": {"name": "sann"}, "transform": [{"filter": "datum.p == 'd3'"}], "mark": {"type": "text", "fontSize": 16, "color": "#222"},
       "encoding": {"x": {"field": "H", "type": "quantitative"}, "y": {"field": "M", "type": "quantitative"}, "text": {"field": "txt"}}}
     ]}
    ]
   },
   {
    "spacing": 4,
    "vconcat": [
     {
      "title": {"text": "e", "offset": -7, "dx": -10},
      "spacing": 0, "bounds": "flush",
      "vconcat": [
       {"width": 205, "height": 94, "layer": [
        {"data": {"name": "small"}, "transform": [{"filter": "datum.p == 'e1' && datum.k == 'D'"}], "mark": {"type": "line", "color": "#c2b4c2", "strokeWidth": 1.3, "interpolate": "monotone"},
         "encoding": {"x": {"field": "H", "type": "quantitative", "scale": {"domain": [-1, 9.74], "nice": false, "zero": false}, "axis": {"orient": "top", "values": [0, 1.5, 3, 4.5, 6, 7.5, 9], "labels": false, "title": null}},
                      "y": {"field": "M", "type": "quantitative", "scale": {"domain": [-0.9, 6.95], "nice": false, "zero": false}, "axis": {"values": [0, 1.5, 3, 4.5, 6], "labelExpr": "datum.value == 0 ? '0' : datum.value == 3 ? '3' : ''", "title": null, "labelPadding": 8}}}},
        {"data": {"name": "small"}, "transform": [{"filter": "datum.p == 'e1' && datum.k == 'M'"}], "mark": {"type": "line", "color": "#5e4b5f", "strokeWidth": 1.6, "interpolate": "monotone"},
         "encoding": {"x": {"field": "H", "type": "quantitative"}, "y": {"field": "M", "type": "quantitative"}}},
        {"data": {"name": "sann"}, "transform": [{"filter": "datum.p == 'e1'"}], "mark": {"type": "text", "fontSize": 16, "color": "#222"},
         "encoding": {"x": {"field": "H", "type": "quantitative"}, "y": {"field": "M", "type": "quantitative"}, "text": {"field": "txt"}}}
       ]},
       {"width": 205, "height": 94, "layer": [
        {"data": {"name": "small"}, "transform": [{"filter": "datum.p == 'e2' && datum.k == 'D'"}], "mark": {"type": "line", "color": "#bfe6dc", "strokeWidth": 1.3, "interpolate": "monotone"},
         "encoding": {"x": {"field": "H", "type": "quantitative", "scale": {"domain": [-1, 9.74], "nice": false, "zero": false}, "axis": null},
                      "y": {"field": "M", "type": "quantitative", "scale": {"domain": [-0.9, 6.95], "nice": false, "zero": false}, "axis": {"values": [0, 1.5, 3, 4.5, 6], "labelExpr": "datum.value == 0 ? '0' : datum.value == 3 ? '3' : ''", "title": "M (μB/Er)", "labelPadding": 8, "titlePadding": 4}}}},
        {"data": {"name": "small"}, "transform": [{"filter": "datum.p == 'e2' && datum.k == 'M'"}], "mark": {"type": "line", "color": "#5fb8a4", "strokeWidth": 1.6, "interpolate": "monotone"},
         "encoding": {"x": {"field": "H", "type": "quantitative"}, "y": {"field": "M", "type": "quantitative"}}},
        {"data": {"name": "sann"}, "transform": [{"filter": "datum.p == 'e2'"}], "mark": {"type": "text", "fontSize": 16, "color": "#222"},
         "encoding": {"x": {"field": "H", "type": "quantitative"}, "y": {"field": "M", "type": "quantitative"}, "text": {"field": "txt"}}}
       ]},
       {"width": 205, "height": 94, "layer": [
        {"data": {"name": "small"}, "transform": [{"filter": "datum.p == 'e3' && datum.k == 'D'"}], "mark": {"type": "line", "color": "#fdd9a8", "strokeWidth": 1.3, "interpolate": "monotone"},
         "encoding": {"x": {"field": "H", "type": "quantitative", "scale": {"domain": [-1, 9.74], "nice": false, "zero": false}, "axis": {"values": [0, 1.5, 3, 4.5, 6, 7.5, 9], "labelExpr": "datum.value == 0 ? '0' : datum.value == 9 ? '9' : ''", "title": "μ₀H (T)", "titlePadding": -4}},
                      "y": {"field": "M", "type": "quantitative", "scale": {"domain": [-0.9, 6.95], "nice": false, "zero": false}, "axis": {"values": [0, 1.5, 3, 4.5, 6], "labelExpr": "datum.value == 0 ? '0' : datum.value == 3 ? '3' : ''", "title": null, "labelPadding": 8}}}},
        {"data": {"name": "small"}, "transform": [{"filter": "datum.p == 'e3' && datum.k == 'M'"}], "mark": {"type": "line", "color": "#fbb54e", "strokeWidth": 1.6, "interpolate": "monotone"},
         "encoding": {"x": {"field": "H", "type": "quantitative"}, "y": {"field": "M", "type": "quantitative"}}},
        {"data": {"name": "sann"}, "transform": [{"filter": "datum.p == 'e3'"}], "mark": {"type": "text", "fontSize": 16, "color": "#222"},
         "encoding": {"x": {"field": "H", "type": "quantitative"}, "y": {"field": "M", "type": "quantitative"}, "text": {"field": "txt"}}}
       ]}
      ]
     },
     {
      "title": {"text": "f", "offset": -22, "dx": -10},
      "spacing": 0, "bounds": "flush",
      "vconcat": [
       {"width": 205, "height": 94, "layer": [
        {"data": {"name": "small"}, "transform": [{"filter": "datum.p == 'f1' && datum.k == 'D'"}], "mark": {"type": "line", "color": "#c2b4c2", "strokeWidth": 1.3, "interpolate": "monotone"},
         "encoding": {"x": {"field": "H", "type": "quantitative", "scale": {"domain": [-1, 9.74], "nice": false, "zero": false}, "axis": {"orient": "top", "values": [0, 1.5, 3, 4.5, 6, 7.5, 9], "labels": false, "title": null}},
                      "y": {"field": "M", "type": "quantitative", "scale": {"domain": [-0.29, 2.78], "nice": false, "zero": false}, "axis": {"values": [0, 1, 2], "labelExpr": "datum.value == 0 ? '0' : datum.value == 2 ? '2' : ''", "title": null, "labelPadding": 8}}}},
        {"data": {"name": "small"}, "transform": [{"filter": "datum.p == 'f1' && datum.k == 'M'"}], "mark": {"type": "line", "color": "#5e4b5f", "strokeWidth": 1.6, "interpolate": "monotone"},
         "encoding": {"x": {"field": "H", "type": "quantitative"}, "y": {"field": "M", "type": "quantitative"}}},
        {"data": {"name": "sann"}, "transform": [{"filter": "datum.p == 'f1'"}], "mark": {"type": "text", "fontSize": 16, "color": "#222"},
         "encoding": {"x": {"field": "H", "type": "quantitative"}, "y": {"field": "M", "type": "quantitative"}, "text": {"field": "txt"}}}
       ]},
       {"width": 205, "height": 94, "layer": [
        {"data": {"name": "small"}, "transform": [{"filter": "datum.p == 'f2' && datum.k == 'D'"}], "mark": {"type": "line", "color": "#bfe6dc", "strokeWidth": 1.3, "interpolate": "monotone"},
         "encoding": {"x": {"field": "H", "type": "quantitative", "scale": {"domain": [-1, 9.74], "nice": false, "zero": false}, "axis": null},
                      "y": {"field": "M", "type": "quantitative", "scale": {"domain": [-0.29, 2.78], "nice": false, "zero": false}, "axis": {"values": [0, 1, 2], "labelExpr": "datum.value == 0 ? '0' : datum.value == 2 ? '2' : ''", "title": "M (μB/Er)", "labelPadding": 8, "titlePadding": 4}}}},
        {"data": {"name": "small"}, "transform": [{"filter": "datum.p == 'f2' && datum.k == 'M'"}], "mark": {"type": "line", "color": "#5fb8a4", "strokeWidth": 1.6, "interpolate": "monotone"},
         "encoding": {"x": {"field": "H", "type": "quantitative"}, "y": {"field": "M", "type": "quantitative"}}},
        {"data": {"name": "sann"}, "transform": [{"filter": "datum.p == 'f2'"}], "mark": {"type": "text", "fontSize": 16, "color": "#222"},
         "encoding": {"x": {"field": "H", "type": "quantitative"}, "y": {"field": "M", "type": "quantitative"}, "text": {"field": "txt"}}}
       ]},
       {"width": 205, "height": 94, "layer": [
        {"data": {"name": "small"}, "transform": [{"filter": "datum.p == 'f3' && datum.k == 'D'"}], "mark": {"type": "line", "color": "#fdd9a8", "strokeWidth": 1.3, "interpolate": "monotone"},
         "encoding": {"x": {"field": "H", "type": "quantitative", "scale": {"domain": [-1, 9.74], "nice": false, "zero": false}, "axis": {"values": [0, 1.5, 3, 4.5, 6, 7.5, 9], "labelExpr": "datum.value == 0 ? '0' : datum.value == 9 ? '9' : ''", "title": "μ₀H (T)", "titlePadding": -4}},
                      "y": {"field": "M", "type": "quantitative", "scale": {"domain": [-0.29, 2.78], "nice": false, "zero": false}, "axis": {"values": [0, 1, 2], "labelExpr": "datum.value == 0 ? '0' : datum.value == 2 ? '2' : ''", "title": null, "labelPadding": 8}}}},
        {"data": {"name": "small"}, "transform": [{"filter": "datum.p == 'f3' && datum.k == 'M'"}], "mark": {"type": "line", "color": "#fbb54e", "strokeWidth": 1.6, "interpolate": "monotone"},
         "encoding": {"x": {"field": "H", "type": "quantitative"}, "y": {"field": "M", "type": "quantitative"}}},
        {"data": {"name": "sann"}, "transform": [{"filter": "datum.p == 'f3'"}], "mark": {"type": "text", "fontSize": 16, "color": "#222"},
         "encoding": {"x": {"field": "H", "type": "quantitative"}, "y": {"field": "M", "type": "quantitative"}, "text": {"field": "txt"}}}
       ]}
      ]
     }
    ]
   }
  ]
 }
]
}
